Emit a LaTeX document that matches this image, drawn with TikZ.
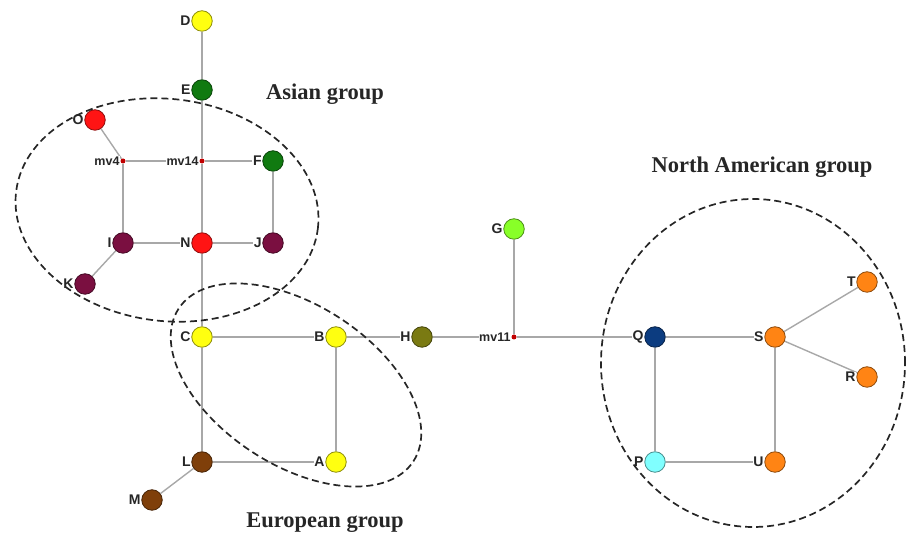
\documentclass[tikz,border=0pt]{standalone}
\usepackage{fontspec}
\setmainfont{Liberation Serif}
\setsansfont{Liberation Sans}
\usetikzlibrary{backgrounds}
\definecolor{hyel}{HTML}{FFFF10}
\definecolor{hdgreen}{HTML}{107A10}
\definecolor{hred}{HTML}{FF1414}
\definecolor{hpurple}{HTML}{7A0F40}
\definecolor{hlgreen}{HTML}{88FF28}
\definecolor{holive}{HTML}{7A7A12}
\definecolor{hnavy}{HTML}{0C3C80}
\definecolor{horange}{HTML}{FF8414}
\definecolor{hcyan}{HTML}{80FFFF}
\definecolor{hbrown}{HTML}{7F3F0A}
\definecolor{mvred}{HTML}{C00000}
\definecolor{edgegray}{HTML}{A8A8A8}
\begin{document}
\begin{tikzpicture}[x=1pt,y=1pt,
  hap/.style={circle, draw=#1!55!black, fill=#1, minimum size=20.5pt, inner sep=0pt, line width=0.8pt},
  mv/.style={circle, fill=mvred, minimum size=5pt, inner sep=0pt},
  lab/.style={font=\sffamily\bfseries\fontsize{14}{14}\selectfont, inner sep=0.6pt, fill=white, text=black!85},
  mvlab/.style={font=\sffamily\bfseries\fontsize{12.5}{12.5}\selectfont, inner sep=0.6pt, fill=white, text=black!85},
  link/.style={draw=edgegray, line width=1.4pt},
  group/.style={draw=black!85, line width=1.7pt, dash pattern=on 7pt off 4pt},
  gtitle/.style={font=\bfseries\fontsize{22.5}{22.5}\selectfont, text=black!85},
  label distance=0pt]
\useasboundingbox (0,0) rectangle (907,537);
% haplotypes
\node[hap=hyel, label={[lab]left:D}] (D) at (202,516) {};
\node[hap=hdgreen, label={[lab]left:E}] (E) at (202,447) {};
\node[hap=hred, label={[lab]left:O}] (O) at (95,417) {};
\node[mv, label={[mvlab]left:mv4}] (mv4) at (123,376) {};
\node[mv, label={[mvlab]left:mv14}] (mv14) at (202,376) {};
\node[hap=hdgreen, label={[lab]left:F}] (F) at (273,376) {};
\node[hap=hpurple, label={[lab]left:I}] (I) at (123,294) {};
\node[hap=hred, label={[lab]left:N}] (N) at (202,294) {};
\node[hap=hpurple, label={[lab]left:J}] (J) at (273,294) {};
\node[hap=hpurple, label={[lab]left:K}] (K) at (85,253) {};
\node[hap=hyel, label={[lab]left:C}] (C) at (202,200) {};
\node[hap=hyel, label={[lab]left:B}] (B) at (336,200) {};
\node[hap=holive, label={[lab]left:H}] (H) at (422,200) {};
\node[mv, label={[mvlab]left:mv11}] (mv11) at (514,200) {};
\node[hap=hlgreen, label={[lab]left:G}] (G) at (514,308) {};
\node[hap=hnavy, label={[lab]left:Q}] (Q) at (655,200) {};
\node[hap=horange, label={[lab]left:S}] (S) at (775,200) {};
\node[hap=horange, label={[lab]left:T}] (T) at (867,255) {};
\node[hap=horange, label={[lab]left:R}] (R) at (867,160) {};
\node[hap=hcyan, label={[lab]left:P}] (P) at (655,75) {};
\node[hap=horange, label={[lab]left:U}] (U) at (775,75) {};
\node[hap=hbrown, label={[lab]left:L}] (L) at (202,75) {};
\node[hap=hyel, label={[lab]left:A}] (A) at (336,75) {};
\node[hap=hbrown, label={[lab]left:M}] (M) at (152,37) {};
% links
\begin{scope}[on background layer]
\draw[link] (D) -- (E);
\draw[link] (E) -- (mv14);
\draw[link] (mv14) -- (N);
\draw[link] (mv4) -- (mv14);
\draw[link] (mv14) -- (F);
\draw[link] (O) -- (mv4);
\draw[link] (mv4) -- (I);
\draw[link] (F) -- (J);
\draw[link] (I) -- (N);
\draw[link] (N) -- (J);
\draw[link] (I) -- (K);
\draw[link] (N) -- (C);
\draw[link] (C) -- (B);
\draw[link] (C) -- (L);
\draw[link] (B) -- (A);
\draw[link] (L) -- (A);
\draw[link] (L) -- (M);
\draw[link] (B) -- (H);
\draw[link] (H) -- (mv11);
\draw[link] (mv11) -- (G);
\draw[link] (mv11) -- (Q);
\draw[link] (Q) -- (S);
\draw[link] (Q) -- (P);
\draw[link] (S) -- (U);
\draw[link] (P) -- (U);
\draw[link] (S) -- (T);
\draw[link] (S) -- (R);
\end{scope}
% groups
\draw[group] (167,327) ellipse [x radius=152, y radius=111, rotate=-7];
\draw[group] (296,152) ellipse [x radius=140, y radius=80, rotate=-33];
\draw[group] (753,174) ellipse [x radius=152, y radius=164];
\node[gtitle] (asian) at (325,443) {Asian group};
\node[gtitle] (namer) at (762,370) {North American group};
\node[gtitle] (europe) at (325,14) {European group};
\end{tikzpicture}
\end{document}
